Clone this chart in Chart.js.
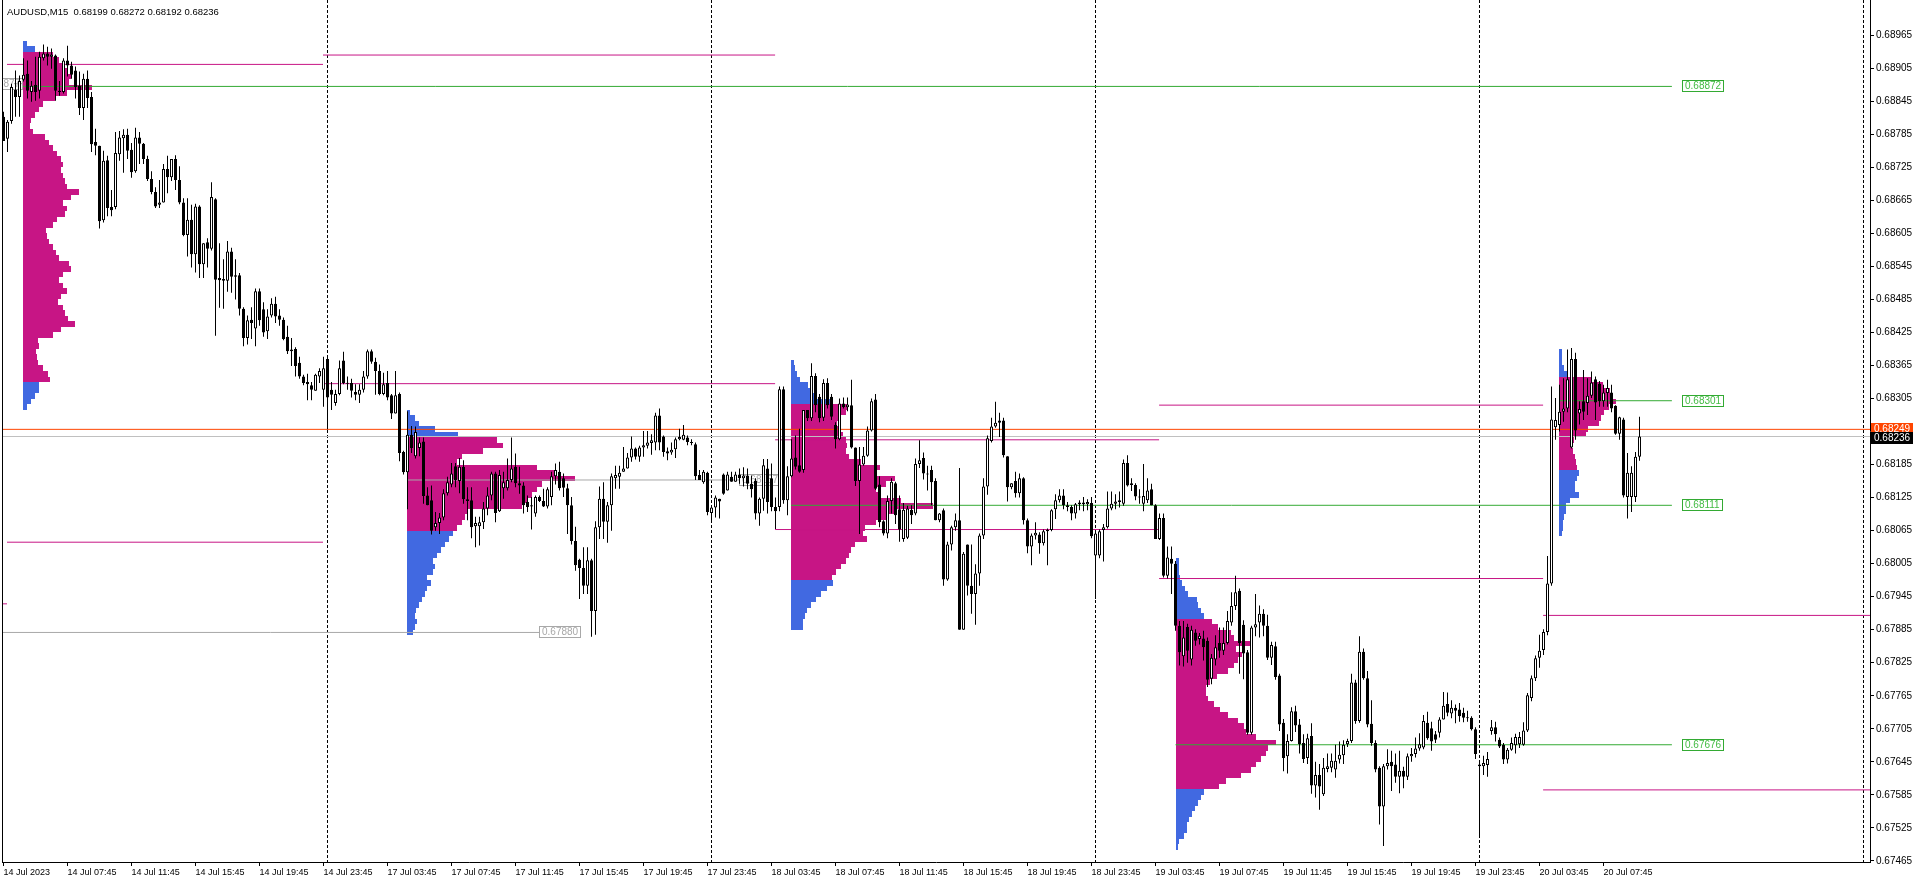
<!DOCTYPE html>
<html>
<head>
<meta charset="utf-8">
<script src="https://cdn.jsdelivr.net/npm/chart.js@4.4.0/dist/chart.umd.min.js"></script>
<style>
html, body { margin: 0; padding: 0; background: #fff; }
canvas { display: block; }
</style>
</head>
<body>
<canvas id="grafico" width="1916" height="885"></canvas>
<script>
// AUDUSD M15, 14 Jul 03:45 .. 20 Jul 10:00, one row per bar: [open, high, low, close]
const day14 = [
[0.68817,0.68826,0.68773,0.68773],[0.68777,0.68811,0.68753,0.68808],[0.68809,0.68877,0.68804,0.68871],[0.68866,0.68901,0.68817,0.68853],
[0.68853,0.68892,0.68817,0.68882],[0.68884,0.68923,0.68881,0.68893],[0.68895,0.68919,0.68850,0.68864],[0.68862,0.68882,0.68844,0.68873],
[0.68875,0.68926,0.68846,0.68862],[0.68864,0.68935,0.68850,0.68926],[0.68923,0.68948,0.68919,0.68932],[0.68932,0.68944,0.68910,0.68926],
[0.68926,0.68941,0.68904,0.68930],[0.68928,0.68930,0.68846,0.68864],[0.68864,0.68882,0.68855,0.68862],[0.68862,0.68923,0.68859,0.68919],
[0.68919,0.68946,0.68890,0.68910],[0.68910,0.68917,0.68886,0.68893],[0.68901,0.68908,0.68850,0.68871],[0.68873,0.68899,0.68820,0.68833],
[0.68833,0.68895,0.68811,0.68886],[0.68886,0.68901,0.68833,0.68851],[0.68853,0.68862,0.68753,0.68767],[0.68771,0.68795,0.68747,0.68764],
[0.68764,0.68764,0.68614,0.68627],[0.68629,0.68755,0.68625,0.68737],[0.68738,0.68746,0.68636,0.68651],[0.68653,0.68684,0.68636,0.68647],
[0.68653,0.68789,0.68649,0.68751],[0.68749,0.68791,0.68737,0.68779],[0.68778,0.68794,0.68715,0.68784],[0.68784,0.68795,0.68740,0.68755],
[0.68757,0.68769,0.68706,0.68716],[0.68718,0.68797,0.68715,0.68779],[0.68779,0.68789,0.68731,0.68768],[0.68768,0.68769,0.68731,0.68740],
[0.68740,0.68746,0.68700,0.68704],[0.68704,0.68718,0.68676,0.68680],[0.68680,0.68689,0.68651,0.68654],[0.68657,0.68702,0.68651,0.68661],
[0.68661,0.68731,0.68661,0.68722],[0.68722,0.68746,0.68678,0.68707],[0.68707,0.68740,0.68700,0.68740],[0.68740,0.68747,0.68684,0.68702],
[0.68702,0.68727,0.68658,0.68661],[0.68661,0.68669,0.68600,0.68602],[0.68602,0.68669,0.68563,0.68630],[0.68630,0.68657,0.68543,0.68567],
[0.68567,0.68659,0.68534,0.68654],[0.68654,0.68656,0.68524,0.68549],[0.68549,0.68587,0.68524,0.68587],[0.68589,0.68596,0.68543,0.68577],
[0.68577,0.68698,0.68574,0.68671],[0.68667,0.68669,0.68419,0.68521],[0.68524,0.68587,0.68470,0.68520],[0.68522,0.68558,0.68468,0.68519],
[0.68519,0.68591,0.68499,0.68572],[0.68572,0.68579,0.68497,0.68526],[0.68526,0.68558,0.68485,0.68529],[0.68529,0.68533,0.68456,0.68468],
[0.68468,0.68471,0.68400,0.68415],[0.68415,0.68456,0.68403,0.68447],[0.68448,0.68471,0.68413,0.68442],[0.68432,0.68505,0.68400,0.68500],
[0.68500,0.68505,0.68437,0.68447],[0.68467,0.68480,0.68417,0.68425],[0.68427,0.68467,0.68413,0.68454],[0.68456,0.68487,0.68452,0.68477],
[0.68477,0.68490,0.68442,0.68454],[0.68456,0.68467,0.68437,0.68448],[0.68448,0.68452,0.68411,0.68413],[0.68417,0.68437,0.68386,0.68391],
[0.68391,0.68415,0.68364,0.68394],[0.68395,0.68398,0.68345,0.68364],[0.68370,0.68381,0.68341,0.68345],[0.68345,0.68348,0.68329,0.68333],
[0.68335,0.68350,0.68302,0.68331],[0.68329,0.68335,0.68302,0.68321],[0.68319,0.68350,0.68319,0.68348],[0.68345,0.68360,0.68333,0.68355],
[0.68321,0.68381,0.68290,0.68360]
];
const day17 = [
[0.68377,0.68381,0.68249,0.68307],[0.68321,0.68335,0.68284,0.68312],[0.68297,0.68321,0.68292,0.68313],[0.68313,0.68374,0.68311,0.68360],
[0.68374,0.68390,0.68331,0.68333],[0.68333,0.68345,0.68321,0.68332],[0.68333,0.68341,0.68307,0.68319],[0.68317,0.68331,0.68302,0.68312],
[0.68312,0.68331,0.68297,0.68321],[0.68321,0.68355,0.68316,0.68345],[0.68345,0.68394,0.68341,0.68391],[0.68391,0.68394,0.68368,0.68372],
[0.68372,0.68379,0.68312,0.68355],[0.68355,0.68367,0.68311,0.68313],[0.68313,0.68352,0.68311,0.68331],[0.68333,0.68355,0.68302,0.68307],
[0.68311,0.68313,0.68268,0.68278],[0.68278,0.68355,0.68278,0.68311],[0.68313,0.68316,0.68191,0.68206],[0.68208,0.68210,0.68167,0.68171],
[0.68171,0.68282,0.68104,0.68239],[0.68239,0.68255,0.68206,0.68215],[0.68200,0.68254,0.68196,0.68244],[0.68215,0.68234,0.68200,0.68225],
[0.68227,0.68234,0.68114,0.68128],[0.68129,0.68144,0.68111,0.68111],[0.68120,0.68147,0.68058,0.68065],[0.68071,0.68099,0.68065,0.68079],
[0.68079,0.68097,0.68059,0.68089],[0.68089,0.68140,0.68084,0.68133],[0.68133,0.68163,0.68129,0.68153],[0.68149,0.68188,0.68144,0.68169],
[0.68182,0.68188,0.68144,0.68157],[0.68155,0.68197,0.68133,0.68181],[0.68181,0.68193,0.68114,0.68122],[0.68122,0.68144,0.68084,0.68119],
[0.68120,0.68144,0.68051,0.68071],[0.68073,0.68090,0.68035,0.68079],[0.68073,0.68090,0.68038,0.68080],[0.68080,0.68117,0.68068,0.68105],
[0.68105,0.68144,0.68093,0.68129],[0.68129,0.68172,0.68120,0.68169],[0.68169,0.68172,0.68080,0.68097],[0.68100,0.68175,0.68099,0.68166],
[0.68142,0.68172,0.68123,0.68153],[0.68142,0.68196,0.68138,0.68157],[0.68157,0.68234,0.68153,0.68178],[0.68181,0.68205,0.68144,0.68151],
[0.68151,0.68181,0.68132,0.68147],[0.68147,0.68153,0.68096,0.68111],[0.68117,0.68129,0.68099,0.68108],[0.68111,0.68126,0.68067,0.68109],
[0.68096,0.68129,0.68090,0.68126],[0.68126,0.68129,0.68117,0.68119],[0.68119,0.68141,0.68108,0.68109],[0.68109,0.68144,0.68105,0.68140],
[0.68126,0.68172,0.68111,0.68164],[0.68164,0.68187,0.68149,0.68175],[0.68172,0.68190,0.68138,0.68142],[0.68160,0.68169,0.68126,0.68143],
[0.68142,0.68150,0.68059,0.68111],[0.68111,0.68126,0.68040,0.68046],[0.68046,0.68072,0.67992,0.68002],[0.68012,0.68014,0.67941,0.67997],
[0.67997,0.68035,0.67950,0.67965],[0.67965,0.68035,0.67950,0.68011],[0.68011,0.68014,0.67872,0.67919],[0.67919,0.68082,0.67876,0.68071],
[0.68071,0.68145,0.68050,0.68123],[0.68123,0.68153,0.68050,0.68081],[0.68081,0.68117,0.68043,0.68111],[0.68111,0.68169,0.68065,0.68164],
[0.68160,0.68183,0.68141,0.68166],[0.68163,0.68183,0.68141,0.68170],[0.68172,0.68217,0.68172,0.68178],[0.68178,0.68206,0.68178,0.68198],
[0.68198,0.68236,0.68190,0.68214],[0.68214,0.68216,0.68194,0.68199],[0.68199,0.68219,0.68190,0.68216],[0.68216,0.68246,0.68199,0.68220],
[0.68219,0.68246,0.68214,0.68225],[0.68224,0.68240,0.68203,0.68229],[0.68225,0.68279,0.68211,0.68274],[0.68274,0.68287,0.68211,0.68225],
[0.68236,0.68238,0.68199,0.68208],[0.68209,0.68216,0.68193,0.68205],[0.68207,0.68225,0.68203,0.68212],[0.68213,0.68234,0.68197,0.68231],
[0.68231,0.68250,0.68229,0.68235],[0.68230,0.68257,0.68229,0.68239],[0.68234,0.68238,0.68220,0.68226],[0.68226,0.68231,0.68220,0.68224],
[0.68222,0.68225,0.68157,0.68164],[0.68166,0.68175,0.68157,0.68157],[0.68153,0.68175,0.68150,0.68172],[0.68170,0.68172,0.68093,0.68099]
];
const day18 = [
[0.68097,0.68111,0.68079,0.68107],[0.68107,0.68129,0.68089,0.68125],[0.68123,0.68123,0.68087,0.68118],[0.68167,0.68169,0.68130,0.68132],
[0.68138,0.68172,0.68138,0.68167],[0.68163,0.68172,0.68154,0.68154],[0.68154,0.68172,0.68154,0.68167],[0.68167,0.68178,0.68150,0.68160],
[0.68160,0.68180,0.68145,0.68165],[0.68165,0.68178,0.68140,0.68150],[0.68150,0.68165,0.68125,0.68140],[0.68155,0.68160,0.68085,0.68096],
[0.68096,0.68125,0.68074,0.68123],[0.68123,0.68195,0.68101,0.68184],[0.68178,0.68195,0.68096,0.68117],[0.68160,0.68187,0.68100,0.68108],
[0.68108,0.68125,0.68068,0.68100],[0.68108,0.68327,0.68100,0.68322],[0.68322,0.68327,0.68114,0.68120],[0.68120,0.68182,0.68093,0.68164],
[0.68164,0.68231,0.68162,0.68196],[0.68198,0.68238,0.68176,0.68181],[0.68184,0.68250,0.68170,0.68172],[0.68175,0.68284,0.68170,0.68284],
[0.68284,0.68284,0.68264,0.68269],[0.68269,0.68369,0.68264,0.68346],[0.68346,0.68351,0.68280,0.68293],[0.68308,0.68313,0.68262,0.68269],
[0.68270,0.68340,0.68264,0.68333],[0.68333,0.68342,0.68287,0.68293],[0.68308,0.68313,0.68266,0.68272],[0.68257,0.68262,0.68214,0.68231],
[0.68231,0.68305,0.68229,0.68296],[0.68296,0.68307,0.68287,0.68289],[0.68289,0.68307,0.68282,0.68294],[0.68293,0.68339,0.68214,0.68216],
[0.68216,0.68216,0.68146,0.68155],[0.68155,0.68217,0.68059,0.68185],[0.68185,0.68217,0.68183,0.68201],[0.68201,0.68254,0.68199,0.68247],
[0.68247,0.68305,0.68245,0.68300],[0.68303,0.68313,0.68139,0.68141],[0.68149,0.68164,0.68071,0.68080],[0.68082,0.68084,0.68056,0.68060],
[0.68060,0.68129,0.68051,0.68119],[0.68119,0.68160,0.68096,0.68154],[0.68151,0.68154,0.68077,0.68093],[0.68104,0.68129,0.68045,0.68067],
[0.68050,0.68115,0.68045,0.68103],[0.68052,0.68110,0.68050,0.68105],[0.68103,0.68111,0.68077,0.68093],[0.68096,0.68196,0.68093,0.68186],
[0.68186,0.68229,0.68179,0.68193],[0.68197,0.68207,0.68158,0.68169],[0.68169,0.68183,0.68138,0.68167],[0.68175,0.68183,0.68111,0.68153],
[0.68155,0.68160,0.68084,0.68084],[0.68084,0.68097,0.68080,0.68096],[0.68102,0.68105,0.67965,0.67976],[0.67976,0.68045,0.67974,0.68040],
[0.68040,0.68074,0.68029,0.68071],[0.68071,0.68096,0.68065,0.68084],[0.68084,0.68179,0.67885,0.67885],[0.67885,0.68026,0.67885,0.68023],
[0.68040,0.68040,0.67947,0.67965],[0.67965,0.68040,0.67914,0.67950],[0.67950,0.68004,0.67894,0.67987],[0.67987,0.68060,0.67965,0.68056],
[0.68056,0.68160,0.68050,0.68145],[0.68145,0.68238,0.68130,0.68233],[0.68228,0.68270,0.68225,0.68254],[0.68254,0.68299,0.68252,0.68261],
[0.68265,0.68279,0.68235,0.68261],[0.68265,0.68270,0.68198,0.68202],[0.68200,0.68200,0.68118,0.68144],[0.68144,0.68151,0.68140,0.68151],
[0.68155,0.68172,0.68125,0.68133],[0.68133,0.68169,0.68125,0.68160],[0.68160,0.68162,0.68076,0.68084],[0.68084,0.68087,0.68024,0.68036],
[0.68036,0.68060,0.68002,0.68056],[0.68056,0.68080,0.68049,0.68061],[0.68058,0.68062,0.68023,0.68042],[0.68042,0.68067,0.68038,0.68064],
[0.68064,0.68069,0.68002,0.68066],[0.68066,0.68104,0.68064,0.68102],[0.68104,0.68131,0.68086,0.68120],[0.68120,0.68140,0.68116,0.68129],
[0.68129,0.68140,0.68104,0.68111],[0.68111,0.68117,0.68100,0.68108],[0.68108,0.68111,0.68084,0.68096],[0.68096,0.68115,0.68087,0.68113],
[0.68113,0.68120,0.68102,0.68116],[0.68116,0.68126,0.68100,0.68113],[0.68113,0.68122,0.68102,0.68117],[0.68115,0.68126,0.68051,0.68055]
];
const day19 = [
[0.68020,0.68062,0.67941,0.68060],[0.68020,0.68067,0.68015,0.68064],[0.68066,0.68077,0.68009,0.68071],[0.68071,0.68136,0.68069,0.68105],
[0.68105,0.68136,0.68102,0.68114],[0.68114,0.68131,0.68104,0.68118],[0.68117,0.68136,0.68107,0.68120],[0.68114,0.68194,0.68110,0.68188],
[0.68188,0.68202,0.68145,0.68147],[0.68151,0.68160,0.68137,0.68148],[0.68148,0.68151,0.68120,0.68127],[0.68125,0.68140,0.68114,0.68127],
[0.68114,0.68186,0.68100,0.68128],[0.68120,0.68160,0.68115,0.68138],[0.68140,0.68150,0.68111,0.68111],[0.68111,0.68113,0.68050,0.68050],
[0.68050,0.68096,0.68048,0.68088],[0.68088,0.68096,0.67980,0.67983],[0.67983,0.68036,0.67978,0.68016],[0.68014,0.68036,0.67950,0.68005],
[0.68005,0.68010,0.67883,0.67892],[0.67892,0.67901,0.67820,0.67844],[0.67837,0.67901,0.67818,0.67871],[0.67890,0.67896,0.67825,0.67847],
[0.67831,0.67892,0.67820,0.67885],[0.67880,0.67886,0.67856,0.67865],[0.67868,0.67879,0.67858,0.67874],[0.67869,0.67883,0.67829,0.67853],
[0.67865,0.67871,0.67781,0.67794],[0.67796,0.67841,0.67786,0.67834],[0.67831,0.67875,0.67820,0.67853],[0.67861,0.67889,0.67834,0.67847],
[0.67847,0.67889,0.67839,0.67861],[0.67861,0.67919,0.67858,0.67901],[0.67898,0.67953,0.67892,0.67928],[0.67928,0.67983,0.67921,0.67953],
[0.67956,0.67960,0.67805,0.67861],[0.67894,0.67902,0.67795,0.67842],[0.67844,0.67848,0.67694,0.67698],[0.67698,0.67892,0.67694,0.67889],
[0.67889,0.67950,0.67873,0.67895],[0.67898,0.67929,0.67871,0.67914],[0.67914,0.67922,0.67873,0.67892],[0.67892,0.67912,0.67830,0.67834],
[0.67834,0.67863,0.67821,0.67857],[0.67855,0.67863,0.67794,0.67799],[0.67802,0.67805,0.67701,0.67713],[0.67716,0.67723,0.67628,0.67652],
[0.67655,0.67695,0.67624,0.67683],[0.67683,0.67744,0.67682,0.67737],[0.67737,0.67747,0.67699,0.67711],[0.67713,0.67723,0.67660,0.67677],
[0.67679,0.67695,0.67643,0.67650],[0.67652,0.67696,0.67641,0.67688],[0.67692,0.67715,0.67587,0.67602],[0.67602,0.67645,0.67580,0.67621],
[0.67621,0.67641,0.67558,0.67600],[0.67586,0.67652,0.67583,0.67634],[0.67632,0.67660,0.67626,0.67637],[0.67634,0.67660,0.67626,0.67647],
[0.67631,0.67676,0.67616,0.67647],[0.67649,0.67682,0.67642,0.67658],[0.67657,0.67684,0.67641,0.67676],[0.67677,0.67687,0.67672,0.67683],
[0.67683,0.67805,0.67679,0.67789],[0.67789,0.67794,0.67714,0.67719],[0.67719,0.67873,0.67716,0.67845],[0.67845,0.67851,0.67794,0.67797],
[0.67797,0.67810,0.67708,0.67713],[0.67714,0.67757,0.67674,0.67679],[0.67679,0.67684,0.67626,0.67631],[0.67634,0.67637,0.67531,0.67564],
[0.67564,0.67641,0.67492,0.67637],[0.67637,0.67668,0.67631,0.67643],[0.67645,0.67665,0.67592,0.67637],[0.67640,0.67660,0.67607,0.67618],
[0.67618,0.67665,0.67588,0.67629],[0.67629,0.67636,0.67597,0.67618],[0.67618,0.67660,0.67612,0.67655],[0.67655,0.67670,0.67645,0.67659],
[0.67659,0.67689,0.67653,0.67669],[0.67669,0.67697,0.67665,0.67677],[0.67671,0.67730,0.67668,0.67719],[0.67716,0.67736,0.67685,0.67688],
[0.67706,0.67718,0.67665,0.67682],[0.67695,0.67701,0.67679,0.67685],[0.67698,0.67726,0.67689,0.67722],[0.67722,0.67772,0.67722,0.67747],
[0.67750,0.67771,0.67728,0.67734],[0.67733,0.67757,0.67724,0.67743],[0.67743,0.67749,0.67715,0.67738],[0.67740,0.67752,0.67718,0.67728],
[0.67734,0.67743,0.67717,0.67725],[0.67725,0.67738,0.67718,0.67724],[0.67725,0.67728,0.67702,0.67704],[0.67704,0.67708,0.67650,0.67659]
];
const day20 = [
[0.67640,0.67645,0.67512,0.67637],[0.67637,0.67656,0.67621,0.67643],[0.67639,0.67663,0.67618,0.67650],[0.67701,0.67721,0.67694,0.67708],
[0.67708,0.67718,0.67682,0.67695],[0.67685,0.67689,0.67670,0.67673],[0.67676,0.67679,0.67641,0.67649],[0.67649,0.67670,0.67642,0.67667],
[0.67667,0.67689,0.67665,0.67679],[0.67675,0.67696,0.67660,0.67690],[0.67677,0.67699,0.67670,0.67690],[0.67676,0.67717,0.67674,0.67702],
[0.67702,0.67770,0.67699,0.67766],[0.67761,0.67802,0.67755,0.67797],[0.67797,0.67838,0.67792,0.67833],[0.67834,0.67876,0.67816,0.67847],
[0.67848,0.67886,0.67839,0.67881],[0.67881,0.68019,0.67875,0.67969],[0.67969,0.68327,0.67965,0.68267],[0.68253,0.68306,0.68230,0.68266],
[0.68257,0.68330,0.68245,0.68281],[0.68281,0.68342,0.68263,0.68287],[0.68287,0.68394,0.68280,0.68340],[0.68216,0.68397,0.68214,0.68377],
[0.68377,0.68388,0.68230,0.68247],[0.68278,0.68300,0.68258,0.68286],[0.68300,0.68357,0.68266,0.68281],[0.68297,0.68342,0.68275,0.68310],
[0.68310,0.68354,0.68306,0.68334],[0.68340,0.68345,0.68266,0.68298],[0.68332,0.68337,0.68290,0.68300],[0.68300,0.68330,0.68290,0.68316],
[0.68315,0.68339,0.68290,0.68324],[0.68316,0.68330,0.68280,0.68287],[0.68292,0.68293,0.68239,0.68241],[0.68241,0.68272,0.68230,0.68271],
[0.68267,0.68270,0.68125,0.68129],[0.68126,0.68206,0.68087,0.68170],[0.68126,0.68182,0.68099,0.68170],[0.68126,0.68208,0.68117,0.68199],
[0.68199,0.68272,0.68192,0.68236]
];

// axis labels
const xTickIdx = [0,16,32,48,64,80,96,112,128,144,160,176,192,208,224,240,256,272,288,304,320,336,352,368,384,400];
const xTickLabels = ['14 Jul 2023','14 Jul 07:45','14 Jul 11:45','14 Jul 15:45','14 Jul 19:45','14 Jul 23:45',
  '17 Jul 03:45','17 Jul 07:45','17 Jul 11:45','17 Jul 15:45','17 Jul 19:45','17 Jul 23:45',
  '18 Jul 03:45','18 Jul 07:45','18 Jul 11:45','18 Jul 15:45','18 Jul 19:45','18 Jul 23:45',
  '19 Jul 03:45','19 Jul 07:45','19 Jul 11:45','19 Jul 15:45','19 Jul 19:45','19 Jul 23:45',
  '20 Jul 03:45','20 Jul 07:45'];
const yTickValues = [0.67465,0.67525,0.67585,0.67645,0.67705,0.67765,0.67825,0.67885,0.67945,0.68005,0.68065,
  0.68125,0.68185,0.68305,0.68365,0.68425,0.68485,0.68545,0.68605,0.68665,0.68725,0.68785,0.68845,0.68905,0.68965];
const daySeparators = [81, 177, 273, 369, 465];

// daily volume profiles, one value per 0.0001 row from the base price upward
const prof14 = [4,8,12,16,16,27,25,20,15,14,13,16,15,30,38,52,45,42,40,35,38,44,40,36,40,48,46,36,33,30,26,24,23,30,34,
  42,44,40,48,56,44,42,40,38,40,38,34,30,26,22,10,7,8,12,16,20,32,44,69,46,48,44,40,36,30,12,4];
const prof17 = [6,8,10,8,9,12,15,18,20,24,20,26,28,26,30,34,38,42,46,50,55,58,60,115,120,125,130,135,168,150,130,50,55,76,96,90,
  51,28,12,8,3];
const prof18 = [12,12,14,16,20,25,30,36,42,41,45,50,55,58,60,64,76,72,74,85,98,105,142,110,88,85,95,104,86,89,70,58,55,56,55,
  52,48,46,50,55,57,40,25,19,17,9,6,4,3];
const prof19 = [2,3,8,11,11,13,16,19,22,25,28,43,50,65,75,80,85,90,92,100,80,70,68,62,52,44,38,32,30,30,34,41,52,58,62,66,
  60,74,58,55,42,36,28,25,22,21,12,9,6,4,3,3,3];
const prof20 = [3,4,4,5,7,7,11,20,16,16,18,20,18,17,16,14,13,15,27,29,40,42,45,50,57,53,51,44,32,8,5,3,3,3];
const profBase = [0.68290, 0.67880, 0.67890, 0.67490, 0.68060];
const profAnchor = [4.875, 100.875, 196.875, 293, 388.875];
const profVaLow = [0.68340, 0.68070, 0.67980, 0.67600, 0.68180];
const profVaHigh = [0.68930, 0.68230, 0.68290, 0.67900, 0.68340];

// value area high/low lines carried forward: price, from bar, to bar
const vaPrice = [0.68912, 0.68044, 0.67932, 0.68929, 0.68332, 0.68230, 0.68067, 0.68293, 0.67978, 0.67911, 0.67594];
const vaFrom = [0.875, 0.875, -0.375, 79.875, 79.875, 192.9, 192.9, 288.9, 288.9, 384.9, 384.9];
const vaTo = [79.875, 79.875, 0.875, 192.9, 192.9, 288.9, 288.9, 384.9, 384.9, 466.625, 466.625];

// POC levels: untouched ones run to the right, touched ones are grey
const pocPrice = [0.68872, 0.68157, 0.68111, 0.67676, 0.68301, 0.67880, 0.68877];
const pocFrom = [4.875, 100.875, 196.875, 293, 388.875, -0.375, 2.6];
const pocTo = [417.1, 183.9, 417.1, 417.1, 417.1, 133.9, 4.875];
const pocTouched = [false, true, false, false, false, true, true];

const askPrice = 0.68249;
const bidPrice = 0.68236;
const titleText = 'AUDUSD,M15  0.68199 0.68272 0.68192 0.68236';

const MAGENTA = '#C71585';
const BLUE = '#4169E1';
const GREEN = '#33AA33';
const GREY = '#A8A8A8';
const PROFILE_STEP = 0.0001;
const VOL_PER_BAR = 4;
const FONT = '"Liberation Sans", Arial, sans-serif';

const bars = day14.concat(day17, day18, day19, day20);
const profiles = [prof14, prof17, prof18, prof19, prof20].map((vol, k) => ({
  vol: vol, base: profBase[k], anchor: profAnchor[k], vaLow: profVaLow[k], vaHigh: profVaHigh[k]
}));

const wickData = bars.map((b, i) => ({ x: i, y: [b[2], b[1]] }));
const bodyData = bars.map((b, i) => ({ x: i, y: [Math.min(b[0], b[3]), Math.max(b[0], b[3])] }));
const bodyColors = bars.map(b => b[3] >= b[0] ? '#ffffff' : '#000000');

function hLine(price, from, to, color) {
  return {
    type: 'line', data: [{ x: from, y: price }, { x: to, y: price }],
    borderColor: color, borderWidth: 1, pointRadius: 0, order: 2, tension: 0
  };
}

const lineSets = [];
vaPrice.forEach((p, k) => lineSets.push(hLine(p, vaFrom[k], vaTo[k], MAGENTA)));
pocPrice.forEach((p, k) => lineSets.push(hLine(p, pocFrom[k], pocTo[k], pocTouched[k] ? GREY : GREEN)));
lineSets.push(hLine(bidPrice, -0.375, 466.625, '#C0C0C0'));
lineSets.push(hLine(askPrice, -0.375, 466.625, '#FF4500'));

function box(ctx, text, xLeft, yMid, color, fill, textColor) {
  ctx.font = '10px ' + FONT;
  const w = Math.round(ctx.measureText(text).width) + 6;
  const top = Math.round(yMid - 6);
  ctx.fillStyle = fill;
  ctx.fillRect(xLeft, top, w, 12);
  if (color) {
    ctx.strokeStyle = color;
    ctx.lineWidth = 1;
    ctx.strokeRect(xLeft + 0.5, top + 0.5, w - 1, 11);
  }
  ctx.fillStyle = textColor;
  ctx.textBaseline = 'middle';
  ctx.textAlign = 'left';
  ctx.fillText(text, xLeft + 3, top + 6.5);
  return w;
}

const overlay = {
  id: 'overlay',
  beforeDatasetsDraw(chart) {
    const { ctx, chartArea: a, scales: { x, y } } = chart;
    ctx.save();
    ctx.beginPath();
    ctx.rect(a.left, a.top, a.right - a.left, a.bottom - a.top);
    ctx.clip();

    // period separators
    ctx.strokeStyle = '#000';
    ctx.lineWidth = 1;
    ctx.setLineDash([3, 2]);
    daySeparators.forEach(i => {
      const px = Math.floor(x.getPixelForValue(i)) + 0.5;
      ctx.beginPath();
      ctx.moveTo(px, a.top);
      ctx.lineTo(px, a.bottom);
      ctx.stroke();
    });
    ctx.setLineDash([]);

    // volume profiles
    profiles.forEach(p => {
      const left = Math.round(x.getPixelForValue(p.anchor));
      p.vol.forEach((v, k) => {
        const price = p.base + k * PROFILE_STEP;
        const top = Math.round(y.getPixelForValue(price + PROFILE_STEP / 2));
        const bot = Math.round(y.getPixelForValue(price - PROFILE_STEP / 2));
        const right = Math.round(x.getPixelForValue(p.anchor + v / VOL_PER_BAR));
        const inVa = price >= p.vaLow - 1e-7 && price <= p.vaHigh + 1e-7;
        ctx.fillStyle = inVa ? MAGENTA : BLUE;
        ctx.fillRect(left, top, right - left, bot - top);
      });
    });

    // grey labels of touched POCs, candles go over them
    pocPrice.forEach((p, k) => {
      if (!pocTouched[k]) return;
      const text = p.toFixed(5);
      ctx.font = '10px ' + FONT;
      const w = Math.round(ctx.measureText(text).width) + 6;
      const xl = Math.round(x.getPixelForValue(pocTo[k])) - (k === 6 ? w : 0);
      box(ctx, text, xl, y.getPixelForValue(p), GREY, '#ffffff', GREY);
    });
    ctx.restore();
  },
  afterDraw(chart) {
    const { ctx, chartArea: a, scales: { x, y } } = chart;
    ctx.save();
    // left frame
    ctx.strokeStyle = '#000';
    ctx.lineWidth = 1;
    ctx.beginPath();
    ctx.moveTo(a.left + 0.5, a.top);
    ctx.lineTo(a.left + 0.5, a.bottom);
    ctx.stroke();

    // untouched POC labels
    pocPrice.forEach((p, k) => {
      if (pocTouched[k]) return;
      const xl = Math.round(x.getPixelForValue(419.6));
      box(ctx, p.toFixed(5), xl, y.getPixelForValue(p), GREEN, '#ffffff', '#44BB44');
    });

    // ask / bid labels on the price axis
    box(ctx, askPrice.toFixed(5), a.right + 1, y.getPixelForValue(askPrice), null, '#FF4500', '#ffffff');
    box(ctx, bidPrice.toFixed(5), a.right + 1, y.getPixelForValue(bidPrice) + 1, null, '#000000', '#ffffff');

    // title
    ctx.font = '9.5px ' + FONT;
    ctx.fillStyle = '#000';
    ctx.textAlign = 'left';
    ctx.textBaseline = 'alphabetic';
    ctx.fillText(titleText, 7, 15);
    ctx.restore();
  }
};

Chart.defaults.font.family = FONT;

new Chart(document.getElementById('grafico'), {
  type: 'bar',
  data: {
    datasets: [
      {
        data: wickData, backgroundColor: '#000', borderWidth: 0, barThickness: 1,
        grouped: false, inflateAmount: 0, order: 1
      },
      {
        data: bodyData, backgroundColor: bodyColors, borderColor: '#000', borderWidth: 1,
        borderSkipped: false, barThickness: 3, minBarLength: 1, grouped: false, inflateAmount: 0, order: 0
      }
    ].concat(lineSets)
  },
  options: {
    responsive: false,
    animation: false,
    events: [],
    layout: { padding: { left: 2, top: 0, right: 0, bottom: 0 } },
    plugins: { legend: { display: false }, tooltip: { enabled: false } },
    scales: {
      x: {
        type: 'linear', min: -0.375, max: 466.625, offset: false,
        grid: { drawOnChartArea: false, drawTicks: true, tickLength: 4, color: '#000', offset: false },
        border: { display: true, color: '#000' },
        afterBuildTicks(axis) { axis.ticks = xTickIdx.map(v => ({ value: v })); },
        afterFit(scale) { scale.height = 23; scale.paddingLeft = 0; scale.paddingRight = 0; },
        ticks: {
          autoSkip: false, maxRotation: 0, minRotation: 0, align: 'start', padding: 1,
          color: '#000', font: { size: 9 },
          callback: (v, i) => xTickLabels[i]
        }
      },
      y: {
        type: 'linear', position: 'right', min: 0.67463, max: 0.69029,
        grid: { drawOnChartArea: false, drawTicks: true, tickLength: 4, color: '#000' },
        border: { display: true, color: '#000' },
        afterBuildTicks(axis) { axis.ticks = yTickValues.map(v => ({ value: v })); },
        afterFit(scale) { scale.width = 46; scale.paddingTop = 0; scale.paddingBottom = 0; },
        ticks: {
          padding: 2, color: '#000', font: { size: 10 },
          callback: v => v.toFixed(5)
        }
      }
    }
  },
  plugins: [overlay]
});
</script>
</body>
</html>
